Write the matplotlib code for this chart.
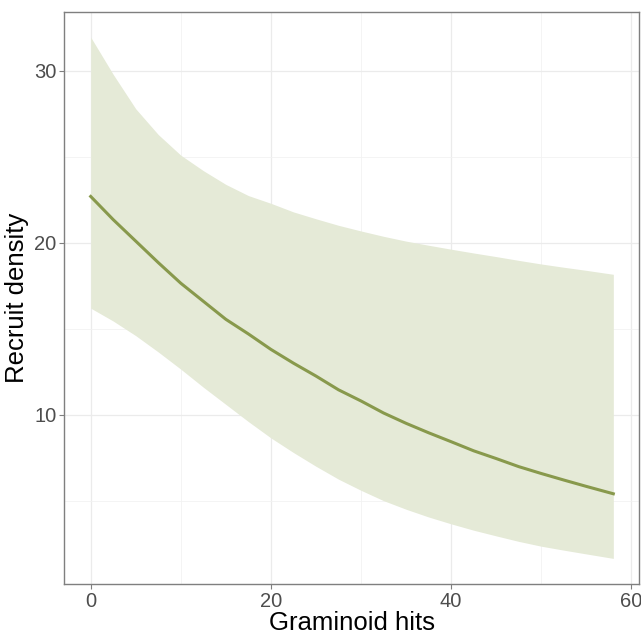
import matplotlib
matplotlib.use('Agg')
import matplotlib.pyplot as plt
from matplotlib.ticker import MultipleLocator

# values
hits = [0, 2.5, 5, 7.5, 10, 12.5, 15, 17.5, 20, 22.5, 25, 27.5, 30,
        32.5, 35, 37.5, 40, 42.5, 45, 47.5, 50, 52.5, 55, 58]
density = [22.7, 21.35, 20.1, 18.85, 17.65, 16.6, 15.55, 14.7, 13.8, 13.0, 12.25, 11.45, 10.8,
           10.1, 9.5, 8.95, 8.43, 7.9, 7.45, 6.98, 6.58, 6.2, 5.83, 5.4]
upper = [31.97, 29.8, 27.8, 26.3, 25.1, 24.2, 23.4, 22.75, 22.3, 21.8, 21.4, 21.02, 20.69,
         20.38, 20.1, 19.86, 19.63, 19.41, 19.2, 18.98, 18.77, 18.58, 18.4, 18.17]
lower = [16.2, 15.45, 14.6, 13.65, 12.65, 11.6, 10.6, 9.6, 8.65, 7.8, 7.0, 6.25, 5.6,
         5.0, 4.5, 4.05, 3.65, 3.28, 2.95, 2.63, 2.35, 2.12, 1.9, 1.64]

x_ticks = [0, 20, 40, 60]
y_ticks = [10, 20, 30]

plt.rcParams['font.family'] = ['Liberation Sans', 'DejaVu Sans']

fig = plt.figure(figsize=(6.41, 6.35), dpi=100)
ax = fig.add_axes([0.1003, 0.0803, 0.8973, 0.9013])

ax.fill_between(hits, lower, upper, color='#E5EAD7', linewidth=0, zorder=2)
ax.plot(hits, density, color='#88994C', linewidth=2.2, zorder=3)

ax.set_xlim(-2.93, 60.9)
ax.set_ylim(0.15, 33.45)
ax.set_xticks(x_ticks)
ax.set_yticks(y_ticks)
ax.xaxis.set_minor_locator(MultipleLocator(10))
ax.yaxis.set_minor_locator(MultipleLocator(5))
ax.grid(which='major', color='#EBEBEB', linewidth=0.9, zorder=0)
ax.grid(which='minor', color='#F2F2F2', linewidth=0.6, zorder=0)
ax.set_axisbelow(True)

for sp in ax.spines.values():
    sp.set_color('#7F7F7F')
    sp.set_linewidth(1.0)

ax.tick_params(which='major', length=3.5, width=0.8, color='#7F7F7F',
               labelsize=14.5, labelcolor='#4D4D4D', pad=2)
ax.tick_params(which='minor', length=0)

ax.set_xlabel('Graminoid hits', fontsize=18.5, color='black', labelpad=0)
ax.set_ylabel('Recruit density', fontsize=18.5, color='black', labelpad=4)

fig.savefig('out.png', dpi=100)
